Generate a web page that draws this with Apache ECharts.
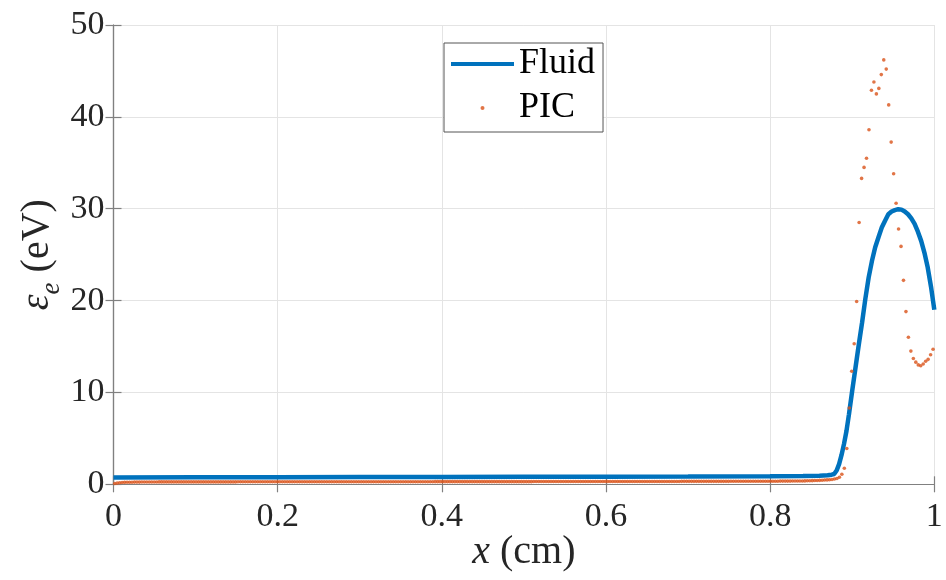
<!DOCTYPE html>
<html>
<head>
<meta charset="utf-8">
<script src="https://cdn.jsdelivr.net/npm/echarts@6/dist/echarts.min.js"></script>
<style>
  html, body { margin: 0; padding: 0; background: #ffffff; }
  #chart { width: 946px; height: 580px; }
</style>
</head>
<body>
<div id="chart"></div>
<script>
// Axis ticks
const xTicks = [0, 0.2, 0.4, 0.6, 0.8, 1];
const yTicks = [0, 10, 20, 30, 40, 50];

// Fluid model: electron energy (eV) vs position x (cm)
const fluidX = [0, 0.1, 0.2, 0.3, 0.4, 0.5, 0.6, 0.7, 0.8, 0.84, 0.86, 0.87,
  0.875, 0.878, 0.881, 0.884, 0.887, 0.890, 0.893, 0.896, 0.900, 0.904, 0.908,
  0.912, 0.916, 0.920, 0.924, 0.928, 0.932, 0.936, 0.940, 0.944, 0.948, 0.952,
  0.956, 0.960, 0.964, 0.968, 0.972, 0.976, 0.980, 0.984, 0.988, 0.992, 0.996, 1.0];
const fluidY = [0.75, 0.77, 0.78, 0.79, 0.80, 0.81, 0.83, 0.85, 0.88, 0.90, 0.94, 0.98,
  1.05, 1.12, 1.5, 2.2, 3.2, 4.4, 5.8, 7.6, 10.2, 12.7, 15.2,
  17.6, 20.2, 22.5, 24.3, 25.8, 26.9, 27.95, 28.7, 29.4, 29.7, 29.85,
  29.95, 29.9, 29.7, 29.4, 28.95, 28.35, 27.5, 26.5, 25.2, 23.6, 21.5, 19.0];

// PIC: one value per cell, cells evenly spaced across [0, 1]
const picCells = 333;
const picY = [
  0.08,0.13,0.17,0.19,0.21,0.22,0.23,0.23,0.24,0.24,0.24,0.25,0.25,0.25,0.25,0.25,0.25,0.25,0.26,0.26,
  0.26,0.26,0.26,0.26,0.26,0.26,0.26,0.26,0.26,0.26,0.26,0.26,0.26,0.26,0.26,0.26,0.26,0.26,0.26,0.26,
  0.26,0.26,0.26,0.26,0.26,0.26,0.26,0.26,0.26,0.26,0.27,0.27,0.27,0.27,0.27,0.27,0.27,0.27,0.27,0.27,
  0.27,0.27,0.27,0.27,0.27,0.27,0.27,0.27,0.27,0.27,0.27,0.27,0.27,0.27,0.27,0.27,0.27,0.27,0.27,0.27,
  0.27,0.27,0.27,0.27,0.27,0.27,0.27,0.27,0.27,0.27,0.28,0.28,0.28,0.28,0.28,0.28,0.28,0.28,0.28,0.28,
  0.28,0.28,0.28,0.28,0.28,0.28,0.28,0.28,0.28,0.28,0.28,0.28,0.28,0.28,0.28,0.28,0.28,0.28,0.28,0.28,
  0.28,0.28,0.28,0.28,0.28,0.28,0.28,0.28,0.28,0.28,0.29,0.29,0.29,0.29,0.29,0.29,0.29,0.29,0.29,0.29,
  0.29,0.29,0.29,0.29,0.29,0.29,0.29,0.29,0.29,0.29,0.29,0.29,0.29,0.29,0.29,0.29,0.29,0.29,0.29,0.29,
  0.29,0.29,0.29,0.29,0.29,0.29,0.29,0.29,0.29,0.29,0.30,0.30,0.30,0.30,0.30,0.30,0.30,0.30,0.30,0.30,
  0.30,0.30,0.30,0.30,0.30,0.30,0.30,0.30,0.30,0.30,0.30,0.30,0.30,0.30,0.30,0.30,0.30,0.30,0.30,0.30,
  0.30,0.30,0.30,0.30,0.30,0.30,0.30,0.30,0.30,0.30,0.31,0.31,0.31,0.31,0.31,0.31,0.31,0.31,0.31,0.31,
  0.31,0.31,0.31,0.31,0.31,0.31,0.31,0.31,0.31,0.31,0.32,0.32,0.32,0.32,0.32,0.32,0.32,0.32,0.32,0.32,
  0.32,0.32,0.32,0.32,0.32,0.32,0.32,0.32,0.32,0.32,0.33,0.33,0.33,0.33,0.33,0.33,0.33,0.33,0.33,0.33,
  0.33,0.33,0.33,0.33,0.33,0.34,0.34,0.34,0.34,0.34,0.35,0.35,0.35,0.35,0.35,0.36,0.36,0.36,0.36,0.36,
  0.37,0.38,0.39,0.40,0.41,0.42,0.43,0.44,0.46,0.48,0.50,0.53,0.57,0.63,
  0.76,1.1,1.74,3.9,8.3,12.3,15.3,19.9,28.5,33.3,
  34.5,35.5,38.6,42.9,43.8,42.5,43.1,44.6,46.2,45.2,
  41.3,37.25,33.8,30.6,27.8,25.9,22.2,18.8,16.0,14.5,
  13.7,13.3,13.0,12.9,13.1,13.4,13.6,14.1,14.7
];

const seriesNames = ['Fluid', 'PIC'];
const colors = ['#0072BD', '#D95319'];

const fontFamily = '"Liberation Serif", "DejaVu Serif", serif';
const axisColor = '#808080';
const textColor = '#262626';
const gap = '\u00a0';

const fluidData = fluidX.map((x, i) => [x, fluidY[i]]);
const picData = picY.map((y, i) => [(i + 0.5) / picCells, y]);

const chart = echarts.init(document.getElementById('chart'), null, { renderer: 'canvas' });

const xStep = xTicks[1] - xTicks[0];
const yStep = yTicks[1] - yTicks[0];

const frameAxis = {
  axisLine: { show: true, lineStyle: { color: axisColor, width: 1.2 } },
  axisTick: { show: true, inside: true, length: 8, lineStyle: { color: axisColor, width: 1.2 } },
  axisLabel: { show: false },
  splitLine: { show: false }
};

chart.setOption({
  animation: false,
  backgroundColor: '#ffffff',
  grid: { left: 113.5, right: 11.7, top: 25, bottom: 95.7, containLabel: false },
  legend: {
    orient: 'vertical',
    left: 444,
    top: 43,
    padding: [3, 8, 6, 7],
    itemGap: 8,
    itemWidth: 63,
    itemHeight: 4,
    backgroundColor: '#ffffff',
    borderColor: '#555555',
    borderWidth: 1,
    borderRadius: 0,
    textStyle: { fontFamily: fontFamily, fontSize: 36, color: '#000000', lineHeight: 36 },
    data: [
      { name: seriesNames[0], icon: 'rect' },
      { name: seriesNames[1], icon: 'circle' }
    ]
  },
  xAxis: [{
    type: 'value',
    min: xTicks[0],
    max: xTicks[xTicks.length - 1],
    interval: xStep,
    name: '{i|x}{r|' + gap + '(cm)}',
    nameLocation: 'middle',
    nameGap: 48,
    nameMoveOverlap: false,
    nameTextStyle: {
      color: textColor,
      rich: {
        i: { fontFamily: fontFamily, fontSize: 40, fontStyle: 'italic', color: textColor },
        r: { fontFamily: fontFamily, fontSize: 40, color: textColor }
      }
    },
    axisLine: { show: true, onZero: false, lineStyle: { color: axisColor, width: 1.2 } },
    axisTick: { show: true, inside: true, length: 8, lineStyle: { color: axisColor, width: 1.2 } },
    axisLabel: { show: true, margin: 16, fontFamily: fontFamily, fontSize: 34, color: textColor },
    splitLine: { show: true, lineStyle: { color: '#e4e4e4', width: 1 } }
  }, Object.assign({
    type: 'value', position: 'top',
    min: xTicks[0], max: xTicks[xTicks.length - 1], interval: xStep
  }, frameAxis)],
  yAxis: [{
    type: 'value',
    min: yTicks[0],
    max: yTicks[yTicks.length - 1],
    interval: yStep,
    name: '{g|ε}{s|e}{r|' + gap + '(eV)}',
    nameLocation: 'middle',
    nameGap: 48,
    nameMoveOverlap: false,
    nameTextStyle: {
      color: textColor,
      rich: {
        g: { fontFamily: fontFamily, fontSize: 40, fontStyle: 'italic', color: textColor, verticalAlign: 'bottom', padding: [0, 0, 8, 0] },
        s: { fontFamily: fontFamily, fontSize: 27, fontStyle: 'italic', color: textColor, verticalAlign: 'bottom' },
        r: { fontFamily: fontFamily, fontSize: 40, color: textColor, verticalAlign: 'bottom', padding: [0, 0, 8, 0] }
      }
    },
    axisLine: { show: true, onZero: false, lineStyle: { color: axisColor, width: 1.2 } },
    axisTick: { show: true, inside: true, length: 8, lineStyle: { color: axisColor, width: 1.2 } },
    axisLabel: { show: true, margin: 9, fontFamily: fontFamily, fontSize: 34, color: textColor },
    splitLine: { show: true, lineStyle: { color: '#e4e4e4', width: 1 } }
  }, Object.assign({
    type: 'value', position: 'right',
    min: yTicks[0], max: yTicks[yTicks.length - 1], interval: yStep
  }, frameAxis)],
  series: [
    {
      name: seriesNames[0],
      type: 'line',
      data: fluidData,
      showSymbol: false,
      symbol: 'none',
      smooth: false,
      lineStyle: { color: colors[0], width: 4.5 },
      itemStyle: { color: colors[0] },
      z: 3
    },
    {
      name: seriesNames[1],
      type: 'scatter',
      data: picData,
      symbol: 'circle',
      symbolSize: 3.6,
      itemStyle: { color: colors[1] },
      z: 4
    }
  ]
});
</script>
</body>
</html>
